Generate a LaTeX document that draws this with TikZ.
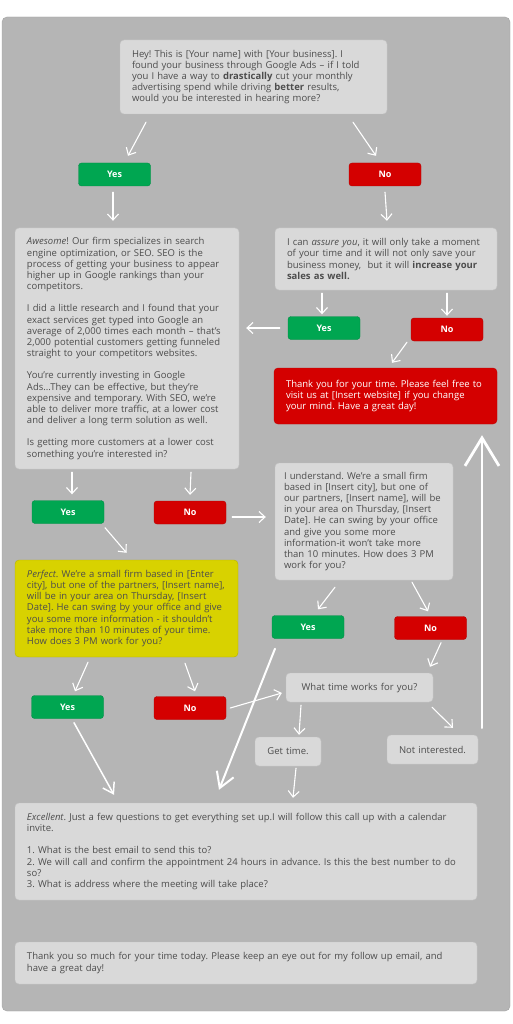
\documentclass[tikz,border=0pt]{standalone}
\usepackage{fontspec}
\setmainfont{Open Sans}
\usetikzlibrary{arrows.meta}

\definecolor{panelgray}{HTML}{B5B5B5}
\definecolor{cardgray}{HTML}{D9D9D9}
\definecolor{cardline}{HTML}{C4C4C4}
\definecolor{textgray}{HTML}{4D4D4D}
\definecolor{yesgreen}{HTML}{00A651}
\definecolor{nored}{HTML}{D40000}
\definecolor{perfyellow}{HTML}{D8D200}

\begin{document}
\frenchspacing
\begin{tikzpicture}[x=1pt, y=1pt,
    card/.style={draw=cardline, fill=cardgray, rounded corners=4pt,
      inner xsep=12pt, inner ysep=0pt, text=textgray, align=left,
      font=\fontsize{9.5}{11.2}\selectfont},
    pick/.style={rounded corners=3pt, minimum width=72pt, minimum height=23pt,
      inner sep=0pt, text=white, font=\fontsize{9}{10}\selectfont\bfseries},
    yesbtn/.style={pick, fill=yesgreen, draw=yesgreen!85!black},
    nobtn/.style={pick, fill=nored, draw=nored!85!black},
    flow/.style={draw=white, line width=1.1pt, line cap=round,
      -{Straight Barb[length=6pt,width=11pt]}}]

  % page and grey panel
  \useasboundingbox (0,0) rectangle (512,-1024);
  \fill[white] (0,0) rectangle (512,-1024);
  \draw[panelgray!90!black, fill=panelgray, rounded corners=5pt]
    (2,-17) rectangle (510,-1011);

  % --- opening line ---
  \node[card, minimum height=74pt, text width=243pt] (hello) at (253.5,-77)
    {Hey! This is [Your name] with [Your business]. I\\
     found your business through Google Ads – if I told\\
     you I have a way to \textbf{drastically} cut your monthly\\
     advertising spend while driving \textbf{better} results,\\
     would you be interested in hearing more?};

  \node[yesbtn] (yes1) at (114.5,-174.5) {Yes};
  \node[nobtn]  (no1)  at (385,-174.5) {No};

  % --- second row ---
  \node[card, minimum height=241pt, text width=200pt] (awesome) at (127,-348.5)
    {\textit{Awesome}! Our firm specializes in search\\
     engine optimization, or SEO. SEO is the\\
     process of getting your business to appear\\
     higher up in Google rankings than your\\
     competitors.\\[11pt]
     I did a little research and I found that your\\
     exact services get typed into Google an\\
     average of 2,000 times each month – that’s\\
     2,000 potential customers getting funneled\\
     straight to your competitors websites.\\[11pt]
     You’re currently investing in Google\\
     Ads...They can be effective, but they’re\\
     expensive and temporary. With SEO, we’re\\
     able to deliver more traffic, at a lower cost\\
     and deliver a long term solution as well.\\[11pt]
     Is getting more customers at a lower cost\\
     something you’re interested in?};

  \node[card, minimum height=62pt, text width=198pt] (assure) at (386,-259)
    {I can \textit{assure you}, it will only take a moment\\
     of your time and it will not only save your\\
     business money,~ but it will \textbf{increase your}\\
     \textbf{sales as well.}};

  \node[yesbtn] (yes2) at (324,-328) {Yes};
  \node[nobtn]  (no2)  at (447,-329.5) {No};

  \node[card, fill=nored, draw=nored!90!black, text=white,
        minimum height=56pt, text width=199pt] (bye) at (385.5,-396)
    {Thank you for your time. Please feel free to\\
     visit us at [Insert website] if you change\\
     your mind. Have a great day!};

  % --- third row ---
  \node[yesbtn] (yes3) at (68,-512) {Yes};
  \node[nobtn]  (no3)  at (190,-512.5) {No};

  \node[card, inner xsep=9pt, minimum height=117pt, text width=160pt] (understand)
    at (364,-521.5)
    {I understand. We’re a small firm\\
     based in [Insert city], but one of\\
     our partners, [Insert name], will be\\
     in your area on Thursday, [Insert\\
     Date]. He can swing by your office\\
     and give you some more\\
     information-it won’t take more\\
     than 10 minutes. How does 3 PM\\
     work for you?};

  \node[card, fill=perfyellow, draw=perfyellow!85!black,
        minimum height=97pt, text width=199pt] (perfect) at (126.5,-608.5)
    {\textit{Perfect}. We’re a small firm based in [Enter\\
     city], but one of the partners, [Insert name],\\
     will be in your area on Thursday, [Insert\\
     Date]. He can swing by your office and give\\
     you some more information - it shouldn’t\\
     take more than 10 minutes of your time.\\
     How does 3 PM work for you?};

  \node[yesbtn] (yes5) at (308,-627) {Yes};
  \node[nobtn]  (no5)  at (430.5,-628) {No};

  \node[yesbtn] (yes4) at (67.5,-707) {Yes};
  \node[nobtn]  (no4)  at (190,-708) {No};

  \node[card, align=center, minimum height=29pt, text width=123pt] (whattime)
    at (359.5,-687.5) {What time works for you?};
  \node[card, align=center, minimum height=29pt, text width=42pt] (gettime)
    at (288,-751.5) {Get time.};
  \node[card, align=center, minimum height=29pt, text width=67pt] (notint)
    at (432.5,-749.5) {Not interested.};

  % --- closing ---
  \node[card, minimum height=97pt, text width=438pt] (excellent) at (246,-851.5)
    {\textit{Excellent}. Just a few questions to get everything set up.I will follow this call up with a calendar\\
     invite.\\[11pt]
     1. What is the best email to send this to?\\
     2. We will call and confirm the appointment 24 hours in advance. Is this the best number to do\\
     so?\\
     3. What is address where the meeting will take place?};

  \node[card, minimum height=42pt, text width=438pt] (thanks) at (246,-963)
    {Thank you so much for your time today. Please keep an eye out for my follow up email, and\\
     have a great day!};

  % --- connectors ---
  \draw[flow] ([xshift=-107.5pt,yshift=-8pt]hello.south) -- ([xshift=13.5pt,yshift=7pt]yes1.north);
  \draw[flow] ([xshift=99.5pt,yshift=-8pt]hello.south) -- ([xshift=-9pt,yshift=7pt]no1.north);
  \draw[flow] ([xshift=-1.5pt,yshift=-6pt]yes1.south) -- ([xshift=-14pt,yshift=7pt]awesome.north);
  \draw[flow] ([yshift=-6pt]no1.south) -- ([xshift=1pt,yshift=7pt]assure.north);

  \draw[flow] ([xshift=-64pt,yshift=-3pt]assure.south) -- ([xshift=-2pt,yshift=2pt]yes2.north);
  \draw[flow] ([xshift=61pt,yshift=-3pt]assure.south) -- ([yshift=2pt]no2.north);
  \draw[flow] ([xshift=-8pt]yes2.west) -- ([xshift=7pt,yshift=20.5pt]awesome.east);
  \draw[flow] ([xshift=-40pt,yshift=-1pt]no2.south) -- ([xshift=6.5pt,yshift=5pt]bye.north);

  \draw[flow] ([xshift=-55pt,yshift=-3pt]awesome.south) -- ([xshift=4pt,yshift=6pt]yes3.north);
  \draw[flow] ([xshift=64pt,yshift=-3pt]awesome.south) -- ([yshift=6pt]no3.north);
  \draw[flow] ([xshift=6pt,yshift=-4.5pt]no3.east) -- ([xshift=-9pt,yshift=4.5pt]understand.west);
  \draw[flow] ([xshift=37pt,yshift=-4pt]yes3.south) -- ([yshift=7pt]perfect.north);

  \draw[flow] ([xshift=-29pt,yshift=-7pt]understand.south) -- ([xshift=10pt,yshift=6pt]yes5.north);
  \draw[flow] ([xshift=48pt,yshift=-2pt]understand.south) -- ([xshift=-2.5pt,yshift=5pt]no5.north);
  \draw[flow] ([xshift=-38.5pt,yshift=-5pt]perfect.south) -- ([xshift=7.5pt,yshift=4pt]yes4.north);
  \draw[flow] ([xshift=58.5pt,yshift=-6pt]perfect.south) -- ([xshift=5pt,yshift=5pt]no4.north);

  \draw[flow] ([xshift=4pt]no4.east) -- ([xshift=-4pt,yshift=-5.5pt]whattime.west);
  \draw[flow, line width=1.5pt, -{Straight Barb[length=10pt,width=13pt]}]
    ([xshift=6.5pt,yshift=-4pt]yes4.south) -- ([xshift=-132pt,yshift=8pt]excellent.north);
  \draw[flow, line width=2pt, -{Straight Barb[length=15pt,width=18pt]}]
    ([xshift=-33pt,yshift=-10pt]yes5.south) -- ([xshift=-27pt,yshift=13pt]excellent.north);
  \draw[flow] ([xshift=10.5pt,yshift=-3pt]no5.south) -- ([xshift=70.5pt,yshift=6pt]whattime.north);
  \draw[flow] ([xshift=-58.5pt,yshift=-3pt]whattime.south) -- ([xshift=11pt,yshift=2pt]gettime.north);
  \draw[flow] ([xshift=72.5pt,yshift=-5pt]whattime.south) -- ([xshift=20.5pt,yshift=7pt]notint.north);
  \draw[flow] ([xshift=8pt,yshift=-2pt]gettime.south) -- ([xshift=47pt,yshift=5pt]excellent.north);

  % big way back up to the goodbye
  \draw[flow, line width=2.8pt, -{Straight Barb[length=28pt,width=34pt]}]
    ([xshift=49.5pt,yshift=7pt]notint.north) -- ([xshift=96.5pt,yshift=-11pt]bye.south);
\end{tikzpicture}
\end{document}
